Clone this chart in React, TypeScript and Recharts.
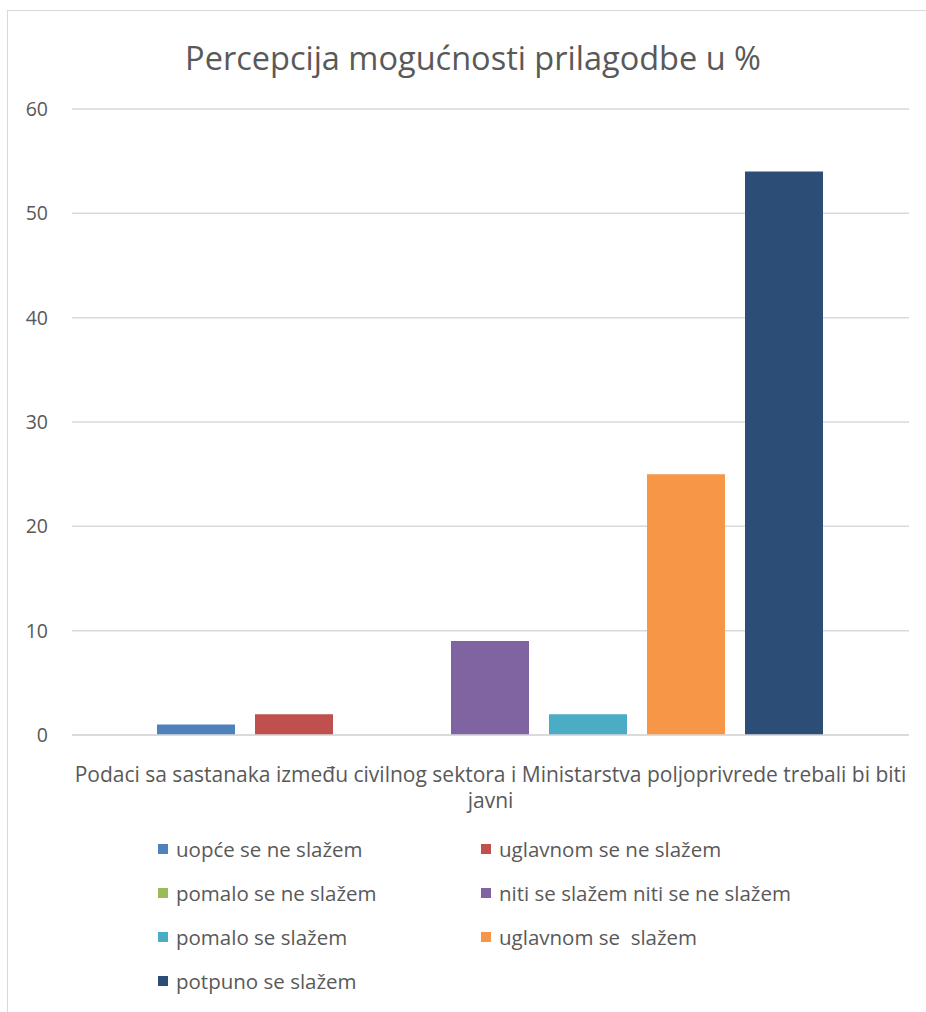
import { Bar, BarChart, CartesianGrid, Legend, XAxis, YAxis } from "recharts";

const categories = [
  "Podaci sa sastanaka između civilnog sektora i Ministarstva poljoprivrede trebali bi biti javni",
];
const seriesNames = [
  "uopće se ne slažem",
  "uglavnom se ne slažem",
  "pomalo se ne slažem",
  "niti se slažem niti se ne slažem",
  "pomalo se slažem",
  "uglavnom se  slažem",
  "potpuno se slažem",
];
const seriesValues = [1, 2, 0, 9, 2, 25, 54];
const yTicks = [0, 10, 20, 30, 40, 50, 60];

const colors = ["#4f81bd", "#c0504d", "#9bbb59", "#8064a2", "#4bacc6", "#f79646", "#2c4d75"];
const FONT = "'Open Sans', sans-serif";
const TEXT = "#595959";

const data = categories.map((category) => {
  const row: Record<string, string | number> = { category };
  seriesNames.forEach((_, i) => {
    row[`s${i}`] = seriesValues[i];
  });
  return row;
});

// simple word wrap by character count
function wrap(label: string, maxChars: number) {
  const lines: string[] = [];
  let cur = "";
  for (const w of label.split(" ")) {
    const next = cur ? `${cur} ${w}` : w;
    if (next.length > maxChars && cur) {
      lines.push(cur);
      cur = w;
    } else {
      cur = next;
    }
  }
  if (cur) lines.push(cur);
  return lines;
}

function CategoryTick({ x, y, payload }: any) {
  const lines = wrap(String(payload.value), 88);
  return (
    <text x={x} y={y + 39} textAnchor="middle" fill={TEXT} fontFamily={FONT} fontSize={21}>
      {lines.map((line, i) => (
        <tspan key={i} x={x} dy={i === 0 ? 0 : 26}>
          {line}
        </tspan>
      ))}
    </text>
  );
}

function LegendGrid() {
  return (
    <div
      style={{
        display: "grid",
        gridTemplateColumns: "323px 340px",
        fontFamily: FONT,
        fontSize: 20.5,
        color: TEXT,
      }}
    >
      {seriesNames.map((name, i) => (
        <div key={name} style={{ display: "flex", alignItems: "center", height: 44, whiteSpace: "pre" }}>
          <span
            style={{ width: 10, height: 10, background: colors[i], marginRight: 8, display: "inline-block" }}
          />
          {name}
        </div>
      ))}
    </div>
  );
}

export default function App() {
  return (
    <div style={{ position: "absolute", left: 0, top: 0, width: 926, height: 1012, background: "#fff" }}>
      <div
        style={{
          position: "absolute",
          left: 7,
          top: 10,
          width: 940,
          height: 1020,
          border: "1px solid #d9d9d9",
        }}
      />
      <div
        style={{
          position: "absolute",
          top: 35,
          left: 0,
          width: 946,
          textAlign: "center",
          fontFamily: FONT,
          fontSize: 32.5,
          color: TEXT,
        }}
      >
        Percepcija mogućnosti prilagodbe u %
      </div>
      <BarChart
        width={926}
        height={1012}
        data={data}
        margin={{ top: 109, right: 17, bottom: 187, left: 0 }}
        barCategoryGap={85}
        barGap={20}
      >
        <CartesianGrid vertical={false} stroke="#d9d9d9" strokeWidth={1.5} />
        <XAxis
          dataKey="category"
          height={90}
          tickLine={false}
          axisLine={{ stroke: "#d9d9d9", strokeWidth: 1.5 }}
          tick={<CategoryTick />}
          interval={0}
        />
        <YAxis
          width={72}
          domain={[0, 60]}
          ticks={yTicks}
          tickLine={false}
          axisLine={false}
          tickMargin={18}
          tick={{ fill: TEXT, fontSize: 19.5, fontFamily: FONT }}
        />
        {seriesNames.map((name, i) => (
          <Bar key={name} dataKey={`s${i}`} name={name} fill={colors[i]} isAnimationActive={false} />
        ))}
        <Legend
          layout="horizontal"
          verticalAlign="middle"
          align="center"
          content={<LegendGrid />}
          wrapperStyle={{ top: 827, left: 158, width: 670, height: 180 }}
        />
      </BarChart>
    </div>
  );
}
